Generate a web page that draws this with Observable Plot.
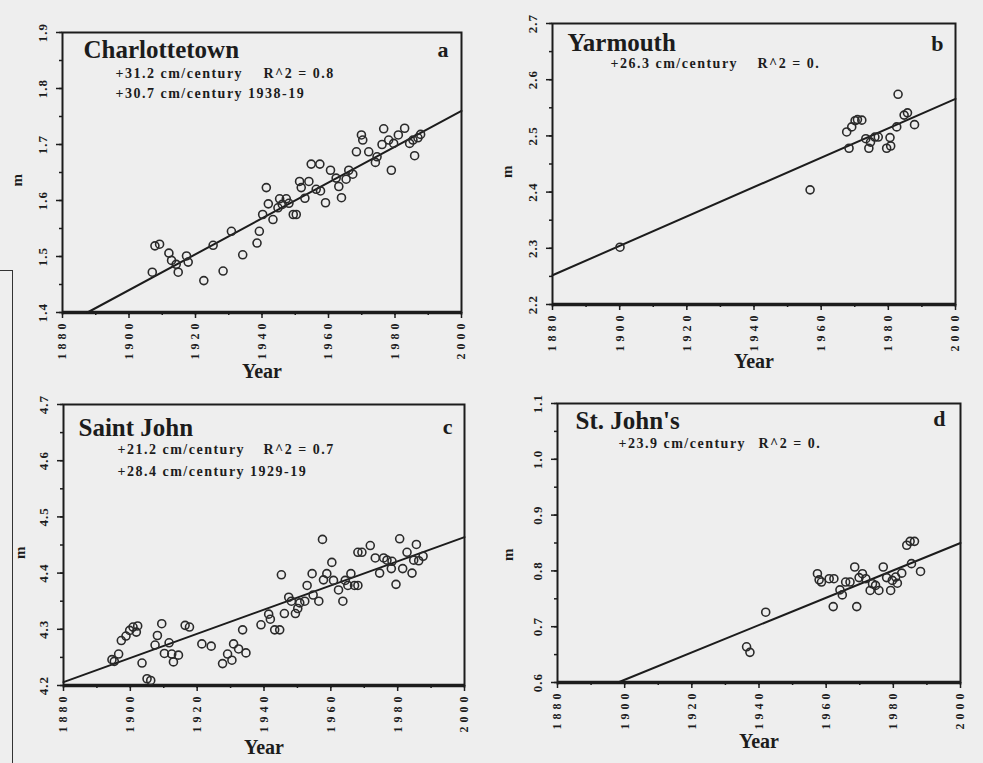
<!DOCTYPE html>
<html><head><meta charset="utf-8">
<script src="https://cdn.jsdelivr.net/npm/d3@7"></script>
<script src="https://cdn.jsdelivr.net/npm/@observablehq/plot@0.6"></script>
<style>
html,body{margin:0;padding:0;background:#eeeeee;}
#root{position:relative;width:983px;height:763px;overflow:hidden;background:#eeeeee;}
#root svg{position:absolute;overflow:visible;}
.stray{position:absolute;left:0;top:270px;width:12px;height:520px;border-top:1.5px solid #333;border-right:1.5px solid #333;}
g[aria-label="x-axis tick label"] text{letter-spacing:4px;}
g[aria-label="y-axis tick label"] text{letter-spacing:1px;}
</style></head><body><div id="root"><div class="stray"></div></div>
<script>
// ---- data ----
const xTickLabels = [1880, 1900, 1920, 1940, 1960, 1980, 2000];

const aYears = [1907.0,1907.8,1909.2,1912.0,1912.8,1914.2,1914.8,1917.3,1917.8,1922.5,1925.3,1928.3,1930.8,1934.2,1938.5,1939.2,1940.2,1941.3,1941.9,1943.3,1944.8,1945.3,1946.1,1947.3,1948.1,1949.4,1950.3,1951.3,1951.8,1952.9,1954.1,1954.8,1957.4,1956.3,1957.6,1959.1,1960.6,1962.3,1963.1,1963.9,1965.3,1966.1,1967.3,1968.4,1969.9,1970.3,1972.1,1974.1,1974.6,1976.1,1976.6,1978.1,1978.9,1979.6,1981.0,1982.9,1984.4,1985.4,1985.9,1986.9,1987.7];
const aValues = [1.472,1.519,1.522,1.506,1.493,1.486,1.472,1.501,1.490,1.457,1.520,1.474,1.545,1.503,1.524,1.545,1.575,1.623,1.594,1.566,1.587,1.603,1.593,1.603,1.595,1.575,1.575,1.634,1.623,1.604,1.634,1.665,1.665,1.620,1.617,1.596,1.654,1.640,1.625,1.605,1.638,1.654,1.647,1.687,1.717,1.708,1.687,1.668,1.678,1.700,1.728,1.708,1.654,1.702,1.717,1.729,1.702,1.708,1.680,1.712,1.718];
const aLineYears = [1887.5, 2000];
const aLineValues = [1.40, 1.76];
const aYTicks = [1.4, 1.5, 1.6, 1.7, 1.8, 1.9];

const bYears = [1900.1,1956.7,1967.6,1968.3,1969.1,1970.1,1970.8,1972.1,1973.3,1974.2,1974.7,1976.0,1977.0,1979.5,1980.5,1980.7,1982.5,1982.9,1984.7,1985.7,1987.8];
const bValues = [2.302,2.404,2.507,2.478,2.516,2.527,2.529,2.528,2.495,2.478,2.489,2.498,2.498,2.478,2.497,2.482,2.516,2.574,2.537,2.541,2.520];
const bLineYears = [1880, 2000];
const bLineValues = [2.252, 2.566];
const bYTicks = [2.2, 2.3, 2.4, 2.5, 2.6, 2.7];

const cYears = [1894.5,1895.2,1896.5,1897.3,1898.7,1899.8,1900.8,1901.8,1902.2,1903.5,1905.0,1906.1,1907.4,1908.1,1909.4,1910.2,1911.6,1912.4,1912.9,1914.4,1916.4,1917.7,1921.4,1924.2,1927.6,1929.1,1930.4,1930.9,1932.4,1933.6,1934.6,1939.1,1941.4,1941.9,1943.2,1944.7,1945.2,1946.1,1947.4,1948.2,1949.4,1950.1,1950.7,1952.2,1952.9,1954.4,1954.7,1956.4,1957.5,1957.8,1958.8,1960.3,1960.8,1962.3,1963.6,1964.3,1965.1,1966.0,1967.1,1968.1,1968.1,1969.3,1971.8,1973.3,1974.6,1975.8,1976.8,1978.3,1978.1,1979.5,1980.6,1981.5,1982.8,1984.3,1984.8,1985.6,1986.3,1987.6];
const cValues = [4.246,4.243,4.256,4.280,4.288,4.298,4.304,4.295,4.306,4.240,4.212,4.209,4.272,4.289,4.310,4.257,4.276,4.256,4.242,4.254,4.307,4.304,4.274,4.270,4.239,4.256,4.245,4.274,4.265,4.299,4.258,4.308,4.327,4.318,4.299,4.299,4.397,4.328,4.357,4.350,4.328,4.337,4.347,4.350,4.378,4.399,4.361,4.350,4.460,4.388,4.399,4.419,4.387,4.370,4.350,4.387,4.378,4.399,4.378,4.378,4.437,4.437,4.449,4.427,4.400,4.427,4.423,4.421,4.408,4.380,4.461,4.408,4.437,4.400,4.423,4.451,4.422,4.430];
const cLineYears = [1880, 2000];
const cLineValues = [4.206, 4.464];
const cYTicks = [4.2, 4.3, 4.4, 4.5, 4.6, 4.7];

const dYears = [1936.3,1937.3,1942.0,1957.4,1957.9,1958.6,1960.9,1962.3,1962.1,1964.1,1964.8,1965.8,1967.1,1968.5,1969.1,1969.8,1970.8,1971.8,1973.1,1973.8,1974.7,1975.7,1977.0,1978.0,1979.2,1979.7,1980.7,1981.2,1982.5,1984.0,1985.0,1986.3,1985.4,1988.1];
const dValues = [0.664,0.654,0.726,0.795,0.784,0.780,0.786,0.786,0.736,0.766,0.757,0.780,0.780,0.807,0.736,0.788,0.795,0.786,0.765,0.777,0.774,0.765,0.807,0.788,0.765,0.783,0.789,0.778,0.796,0.846,0.853,0.853,0.813,0.799];
const dLineYears = [1898, 2000];
const dLineValues = [0.60, 0.85];
const dYTicks = [0.6, 0.7, 0.8, 0.9, 1.0, 1.1];

const stations = ["Charlottetown", "Yarmouth", "Saint John", "St. John's"];
const panelLetters = ["a", "b", "c", "d"];
const trendTexts = [["+31.2 cm/century", "+30.7 cm/century 1938-19"], ["+26.3 cm/century"], ["+21.2 cm/century", "+28.4 cm/century 1929-19"], ["+23.9 cm/century"]];
const r2Texts = ["R^2 = 0.8", "R^2 = 0.", "R^2 = 0.7", "R^2 = 0."];

// ---- layout (pixels) ----
const layout = [
  {left:0,   top:0,   w:490, h:385, mL:62, mR:29, mT:32, mB:73, title:[21,25], letter:[-13,24], stats:[53,45,20], r2dx:201, year:65, m:[-45,14]},
  {left:490, top:0,   w:493, h:385, mL:62, mR:28, mT:23, mB:81, title:[15,27], letter:[-12,27], stats:[58,44,20], r2dx:205, year:63, m:[-45,14]},
  {left:0,   top:385, w:490, h:378, mL:63, mR:26, mT:19, mB:78, title:[15,31], letter:[-12,29], stats:[54,49,22], r2dx:200, year:68, m:[-43,14]},
  {left:490, top:385, w:493, h:378, mL:67, mR:23, mT:18, mB:81, title:[18,25], letter:[-15,22], stats:[61,44,20], r2dx:201, year:65, m:[-49,18]}
];

const series = [
  {years:aYears, values:aValues, ly:aLineYears, lv:aLineValues, ticks:aYTicks},
  {years:bYears, values:bValues, ly:bLineYears, lv:bLineValues, ticks:bYTicks},
  {years:cYears, values:cValues, ly:cLineYears, lv:cLineValues, ticks:cYTicks},
  {years:dYears, values:dValues, ly:dLineYears, lv:dLineValues, ticks:dYTicks}
];

const ink = "#1c1c1c";
const root = document.getElementById("root");

series.forEach((s, i) => {
  const L = layout[i];
  const pts = s.years.map((x, k) => ({x, y: s.values[k]}));
  const ln = s.ly.map((x, k) => ({x, y: s.lv[k]}));
  const yDom = [s.ticks[0], s.ticks[s.ticks.length - 1]];
  const statMarks = trendTexts[i].map((t, k) => Plot.text([t], {
    frameAnchor: "top-left", dx: L.stats[0], dy: L.stats[1] + k * L.stats[2],
    textAnchor: "start", lineAnchor: "bottom", fontSize: 14, fontWeight: "bold", fill: ink
  }));
  const chart = Plot.plot({
    width: L.w, height: L.h,
    marginLeft: L.mL, marginRight: L.mR, marginTop: L.mT, marginBottom: L.mB,
    style: {background: "transparent", fontFamily: "'Liberation Serif', serif", color: ink},
    x: {domain: [1880, 2000]},
    y: {domain: yDom},
    marks: [
      Plot.axisX({ticks: 12, tickSize: 3, text: null, label: null, strokeWidth: 1.5}),
      Plot.axisX({ticks: xTickLabels, tickSize: 6, tickRotate: -90, tickPadding: 1, tickFormat: d => String(d), fontSize: 12, fontWeight: "bold", label: null, strokeWidth: 1.5}),
      Plot.axisY({ticks: 10, tickSize: 3, text: null, label: null, strokeWidth: 1.5}),
      Plot.axisY({ticks: s.ticks, tickSize: 6, tickRotate: -90, tickPadding: 10, tickFormat: d3.format(".1f"), fontSize: 13, fontWeight: "bold", label: null, strokeWidth: 1.5}),
      Plot.frame({stroke: ink, strokeWidth: 2}),
      Plot.ruleY([yDom[0]], {stroke: ink, strokeWidth: 3.5}),
      Plot.line(ln, {x: "x", y: "y", stroke: ink, strokeWidth: 2}),
      Plot.dot(pts, {x: "x", y: "y", r: 4, stroke: "#2a2a2a", strokeWidth: 1.6, fill: "none"}),
      Plot.text([stations[i]], {frameAnchor: "top-left", dx: L.title[0], dy: L.title[1], textAnchor: "start", lineAnchor: "bottom", fontSize: 25, fontWeight: "bold", fill: ink}),
      Plot.text([panelLetters[i]], {frameAnchor: "top-right", dx: L.letter[0], dy: L.letter[1], textAnchor: "end", lineAnchor: "bottom", fontSize: 22, fontWeight: "bold", fill: ink}),
      ...statMarks,
      Plot.text([r2Texts[i]], {frameAnchor: "top-left", dx: L.r2dx, dy: L.stats[1], textAnchor: "start", lineAnchor: "bottom", fontSize: 14, fontWeight: "bold", fill: ink}),
      Plot.text(["Year"], {frameAnchor: "bottom", dy: L.year, fontSize: 20, fontWeight: "bold", fill: ink}),
      Plot.text(["m"], {frameAnchor: "left", dx: L.m[0], dy: L.m[1], rotate: -90, fontSize: 15, fontWeight: "bold", fill: ink})
    ]
  });
  chart.style.left = L.left + "px";
  chart.style.top = L.top + "px";
  d3.select(chart).selectAll("text").filter(function() { return /cm\/century|R\^2/.test(this.textContent); }).style("letter-spacing", "1.5px");
  root.appendChild(chart);
});
</script></body></html>
